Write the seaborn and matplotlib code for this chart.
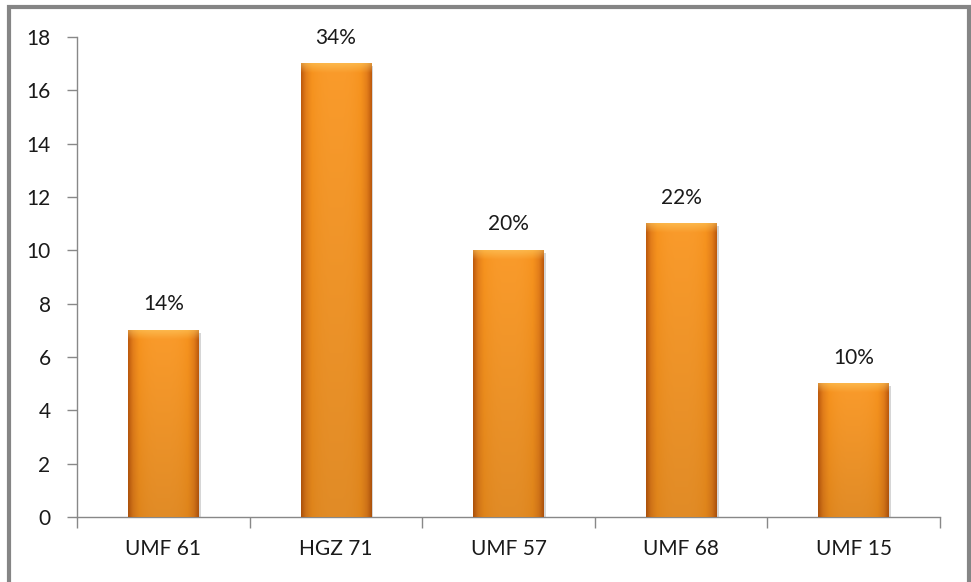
import numpy as np
import pandas as pd
import matplotlib
matplotlib.use("Agg")
import matplotlib.pyplot as plt
from matplotlib.patches import Rectangle
from matplotlib.colors import LinearSegmentedColormap
import seaborn as sns

# Units and their counts, with the share each represents
categories = ["UMF 61", "HGZ 71", "UMF 57", "UMF 68", "UMF 15"]
counts = [7, 17, 10, 11, 5]
shares = ["14%", "34%", "20%", "22%", "10%"]
y_ticks = [0, 2, 4, 6, 8, 10, 12, 14, 16, 18]

sns.set_theme(style="white")
plt.rcParams["font.family"] = ["Lato", "DejaVu Sans"]

df = pd.DataFrame({"unit": categories, "count": counts})

fig = plt.figure(figsize=(9.71, 5.82), dpi=100)
ax = fig.add_axes([77 / 971, 1 - 517 / 582, (940 - 77) / 971, (517 - 37) / 582])

sns.barplot(data=df, x="unit", y="count", ax=ax, color="#F7931E",
            width=0.41, saturation=1, edgecolor="none", zorder=2)

ax.set_xlim(-0.5, len(categories) - 0.5)
ax.set_ylim(0, 18)
ax.set_yticks(y_ticks)
ax.set_xlabel("")
ax.set_ylabel("")

# Bevelled orange fill for each bar
orange = LinearSegmentedColormap.from_list(
    "bevel", ["#C05C0E", "#E47E1A", "#F7931E", "#FA9B2B", "#F7931E", "#E47E1A", "#C05C0E"])
for patch in ax.patches:
    x0, y0 = patch.get_x(), patch.get_y()
    w, h = patch.get_width(), patch.get_height()
    nx, ny = 60, 300
    xs = np.linspace(0, 1, nx)
    horiz = orange(np.clip(0.5 + 0.5 * np.sign(xs - 0.5) * (np.abs(xs - 0.5) * 2) ** 3, 0, 1))
    img = np.repeat(horiz[None, :, :], ny, axis=0)
    # light band along the top edge, darker toward the foot
    rows = np.linspace(0, 1, ny)[:, None, None]
    px_per_unit = 480 / 18
    top_px = (1 - rows) * h * px_per_unit
    highlight = np.clip(1 - top_px / 9, 0, 1) * 0.45
    img[:, :, :3] = img[:, :, :3] * (1 - highlight) + highlight * np.array([1.0, 0.85, 0.45])
    img[:, :, :3] *= (0.9 + 0.1 * rows)
    patch.set_facecolor("none")
    # soft shadow to the right of the bar
    ax.add_patch(Rectangle((x0 + w, y0), 0.012, h - 0.1, facecolor="#BBBBBB",
                           edgecolor="none", alpha=0.6, zorder=1))
    ax.imshow(img, extent=(x0, x0 + w, y0, y0 + h), origin="lower",
              aspect="auto", zorder=3, interpolation="bilinear")
    ax.text(x0 + w / 2, y0 + h + 0.6, shares[int(round(x0 + w / 2))],
            ha="center", va="bottom", fontsize=15, color="#1a1a1a")

ax.set_xlim(-0.5, len(categories) - 0.5)
ax.set_ylim(0, 18)

for side in ["top", "right"]:
    ax.spines[side].set_visible(False)
for side in ["left", "bottom"]:
    ax.spines[side].set_color("#888888")
    ax.spines[side].set_linewidth(1.0)

ax.tick_params(axis="y", direction="out", length=7, width=1, color="#888888",
               labelsize=15, labelcolor="#1a1a1a", pad=12, left=True)
ax.set_xticks(range(len(categories)))
ax.set_xticklabels(categories)
ax.tick_params(axis="x", which="major", length=0, labelsize=15,
               labelcolor="#1a1a1a", pad=16)
ax.set_xticks(np.arange(-0.5, len(categories), 1), minor=True)
ax.tick_params(axis="x", which="minor", direction="out", length=8, width=1,
               color="#888888", bottom=True)

# Outer chart frame
fig.patches.append(Rectangle((9 / 971, -0.05), (969 - 9) / 971, 1.05 - 7 / 582,
                             transform=fig.transFigure, fill=False,
                             edgecolor="#858585", linewidth=3))

fig.savefig("out.png", dpi=100)
